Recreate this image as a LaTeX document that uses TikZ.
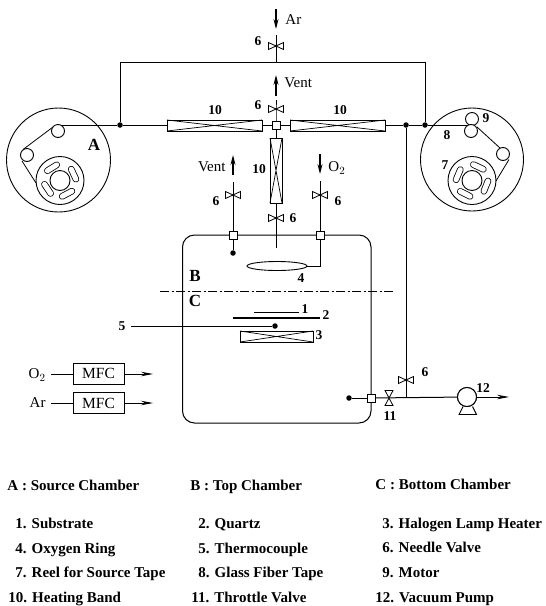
\documentclass[tikz,border=0pt]{standalone}
\usepackage{fontspec}
\setmainfont{Liberation Serif}
\usetikzlibrary{arrows.meta,calc,shapes.geometric}
\tikzset{
  x=1pt,y=-1pt,
  every path/.style={line width=0.9pt,black},
  wire/.style={line width=1pt},
  thinwire/.style={line width=0.8pt},
  flow/.style={line width=1.2pt,-{Stealth[length=10pt,width=5pt]}},
  dotn/.style={circle,fill=black,inner sep=0pt,minimum size=5.5pt},
  port/.style={draw,fill=white,rectangle,inner sep=0pt,minimum size=8pt,line width=1pt},
  roller/.style={draw,circle,inner sep=0pt,minimum size=13pt,fill=white,line width=0.9pt},
  mfcbox/.style={draw,rectangle,inner sep=0pt,minimum width=51pt,minimum height=21pt,font=\fontsize{15.5}{15.5}\selectfont},
  num/.style={font=\fontsize{13.5}{13.5}\selectfont\bfseries,inner sep=0pt},
  gas/.style={font=\fontsize{15}{15}\selectfont,inner sep=0pt},
  big/.style={font=\fontsize{17}{17}\selectfont\bfseries,inner sep=0pt},
  legend/.style={font=\fontsize{15}{15}\selectfont\bfseries,inner sep=0pt,anchor=base west},
  slot/.style={line width=0.8pt,double=white,double distance=5pt,line cap=round},
  pics/hvalve/.style={code={
    \draw[line width=0.8pt,fill=white] (-7.5,-3.5)--(7.5,3.5)--(7.5,-3.5)--(-7.5,3.5)--cycle;
    \fill (0,0) circle (1.2pt);}},
  pics/vvalve/.style={code={
    \draw[line width=0.8pt,fill=white] (-4,-7.5)--(4,7.5)--(-4,7.5)--(4,-7.5)--cycle;}},
}
\newcommand{\heatband}[4]{% x1 y1 x2 y2 rectangle with crossing lines
  \draw[line width=0.9pt] (#1,#2) rectangle (#3,#4);
  \draw[line width=0.7pt] (#1,#2)--(#3,#4) (#1,#4)--(#3,#2);}
\newcommand{\reel}[6]{% x y rotations
  \coordinate (c) at (#1,#2);
  \draw (c) circle (24);
  \draw (c) circle (10);
  \foreach \a in {#3,#4,#5,#6}{
    \draw[slot,rotate around={\a:(c)}] ($(c)+(-5.5,-15)$)--($(c)+(5.5,-15)$);}
}
\begin{document}
\begin{tikzpicture}
\useasboundingbox[fill=white] (0,0) rectangle (546,606);

% ---- nodes of the pipe network
\coordinate (arTop) at (276,9);
\coordinate (arTip) at (276,29);
\coordinate (arV) at (276,46);
\coordinate (junc) at (276,62);
\coordinate (tl) at (120,62);
\coordinate (tr) at (425,62);
\node[dotn] (dl) at (120,125) {};
\node[dotn] (dr) at (425,125) {};
\node[dotn] (dp) at (406,125) {};
\node[port] (hub) at (276,125) {};
\coordinate (ventV) at (276,109);
\coordinate (ventBase) at (276,96);
\coordinate (ventTip) at (276,75);
\coordinate (vertV) at (276,218);
\coordinate (vertEnd) at (276,248);
\node[port] (pl) at (233,235) {};
\node[port] (pr) at (320,235) {};
\node[dotn] (pld) at (233,253) {};
\coordinate (lvV) at (233,195);
\coordinate (lvBase) at (233,175);
\coordinate (lvTip) at (233,155);
\coordinate (rvV) at (320,195);
\coordinate (rvBase) at (320,154);
\coordinate (rvTip) at (320,174);
\coordinate (ringIn) at (320,266);
\coordinate (leftReel) at (58,125);
\coordinate (rightReel) at (472,125);

% ---- chambers (reels)
\draw (58.5,160) circle (52);
\draw (472,159.5) circle (51.5);

% left reel
\draw[thinwire] (dl) -- (leftReel);
\node[roller] (r1) at (58,131) {};
\node[roller] (r2) at (27,155) {};
\draw[thinwire] (53,127)--(23,149.5);
\draw[thinwire] (22,161)--(36,183);
\reel{60}{180.5}{32}{-65}{124}{-152}

% right reel
\draw[thinwire] (dr) -- (rightReel);
\node[roller] (m1) at (472,119) {};
\node[roller] (m2) at (471,131) {};
\node[roller] (r3) at (503,154) {};
\draw[thinwire] (477,127)--(500,148);
\draw[thinwire] (509,159.5)--(496,181);
\reel{472}{180.5}{-25}{-112}{153}{67}

% ---- pipes
\draw[wire] (junc) -- (arV);
\draw[thinwire] (arV) -- (276,35);
\draw[flow] (arTop) -- (arTip);
\draw[wire] (dl) -- (tl) -- (tr) -- (dr);
\draw[wire] (dl) -- (167,125);
\draw[wire] (262,125) -- (hub);
\draw[wire] (hub) -- (290,125);
\draw[thinwire] (385,125) -- (dp);
\draw[thinwire] (dp) -- (dr);
\draw[thinwire] (hub) -- (ventV) -- (276,100);
\draw[flow] (ventBase) -- (ventTip);
\draw[thinwire] (hub) -- (276,138);
\draw[thinwire] (276,203) -- (vertEnd);
\draw[wire] (233,182) -- (pl);
\draw[wire] (pl) -- (pld);
\draw[flow] (lvBase) -- (lvTip);
\draw[thinwire] (320,181) -- (pr);
\draw[flow] (rvBase) -- (rvTip);
\draw[thinwire] (pr) -- (ringIn) -- (306,266);

% ---- heating bands
\heatband{167}{120}{262}{131}
\heatband{290}{120}{385}{131}
\heatband{270}{138}{282}{203}

% ---- valves
\pic at (arV) {hvalve};
\pic at (ventV) {hvalve};
\pic at (vertV) {hvalve};
\pic at (lvV) {hvalve};
\pic at (rvV) {hvalve};

% ---- process chamber
\draw[line width=1pt,rounded corners=12pt] (182.5,235) rectangle (371,423);
\node[port] at (pl) {};
\node[port] at (pr) {};
\draw[line width=0.9pt] (277,266) ellipse (30 and 4.5);
\draw[line width=0.8pt,dash pattern=on 9pt off 2.5pt on 2pt off 2.5pt] (160,291) -- (394,291);

\draw[thinwire] (254,312) -- (299,312);
\draw[line width=1.2pt] (233,318) -- (320,318);
\node[dotn] (tc) at (275,326) {};
\draw[wire] (131,326) -- (tc);
\heatband{240}{331}{313}{342}

% ---- pump line
\node[dotn] (inl) at (349,398) {};
\node[port] (po) at (371,398) {};
\node[draw,circle,inner sep=0pt,minimum size=19pt,line width=1pt,fill=white] (pump) at (467,397) {};
\coordinate (tv) at (389,398);
\coordinate (pv) at (406,398);
\coordinate (pvv) at (406,380);
\coordinate (pumpTip) at (509,397);
\draw[wire] (inl) -- (po);
\draw[wire] (po) -- (pump);
\draw[wire] (dp) -- (pv);
\pic at (tv) {vvalve};
\pic at (pvv) {hvalve};
\draw[line width=0.8pt,-{Stealth[length=12pt,width=4.5pt]}] (pump) -- (pumpTip);
\node[draw,circle,inner sep=0pt,minimum size=19pt,line width=1pt,fill=white] at (467,397) {};
\draw[line width=0.9pt] (463,406.5)--(459,414.5)--(476.5,414.5)--(472.5,406.5);

% ---- MFC
\node[mfcbox] (mfc1) at (98.5,373.5) {MFC};
\node[mfcbox] (mfc2) at (98.5,403) {MFC};
\coordinate (o2in) at (51,374);
\coordinate (arin) at (51,403);
\coordinate (o2out) at (153,374);
\coordinate (arout) at (153,403);
\draw[thinwire] (o2in) -- (mfc1.west |- o2in);
\draw[thinwire] (arin) -- (mfc2.west |- arin);
\draw[line width=0.8pt,-{Stealth[length=12pt,width=4.5pt]}] (mfc1.east |- o2out) -- (o2out);
\draw[line width=0.8pt,-{Stealth[length=12pt,width=4.5pt]}] (mfc2.east |- arout) -- (arout);

% ---- diagram labels
\node[gas,anchor=west] (lAr) at (285,20) {Ar};
\node[gas,anchor=west] (lV1) at (284,83) {Vent};
\node[gas,anchor=east] (lV2) at (226,167) {Vent};
\node[gas,anchor=west] (lO) at (328,168) {O$_{2}$};
\node[gas,anchor=east] (lO3) at (46,375) {O$_{2}$};
\node[gas,anchor=east] (lAr3) at (46,403) {Ar};
\node[num] (n61) at (258,41) {6};
\node[num] (n62) at (258,105) {6};
\node[num] (n63) at (216,201) {6};
\node[num] (n64) at (293,218) {6};
\node[num] (n65) at (338,201) {6};
\node[num] (n66) at (425,372) {6};
\node[num] (n101) at (215,110) {10};
\node[num] (n102) at (340,110) {10};
\node[num] (n103) at (259,169) {10};
\node[big] (lA) at (94,145) {A};
\node[big] (lB) at (195,276) {B};
\node[big] (lC) at (195,301) {C};
\node[num] (n1) at (305,309) {1};
\node[num] (n2) at (326,315) {2};
\node[num] (n3) at (319,335) {3};
\node[num] (n4) at (301,278) {4};
\node[num] (n5) at (122,326) {5};
\node[num] (n7) at (445,165) {7};
\node[num] (n8) at (447,135) {8};
\node[num] (n9) at (486,118) {9};
\node[num] (n11) at (390,416) {11};
\node[num] (n12) at (483,388) {12};

% ---- legend
\node[legend] (a0) at (7,490) {A : Source Chamber};
\node[legend] (b0) at (190,490) {B : Top Chamber};
\node[legend] (c0) at (375,489) {C : Bottom Chamber};
\node[legend] (a1) at (15,528) {1. Substrate};
\node[legend] (b1) at (198,528) {2. Quartz};
\node[legend] (c1) at (382,528) {3. Halogen Lamp Heater};
\node[legend] (a2) at (15,553) {4. Oxygen Ring};
\node[legend] (b2) at (198,553) {5. Thermocouple};
\node[legend] (c2) at (382,552) {6. Needle Valve};
\node[legend] (a3) at (15,577) {7. Reel for Source Tape};
\node[legend] (b3) at (198,577) {8. Glass Fiber Tape};
\node[legend] (c3) at (382,577) {9. Motor};
\node[legend] (a4) at (8,602) {10. Heating Band};
\node[legend] (b4) at (191,602) {11. Throttle Valve};
\node[legend] (c4) at (375,602) {12. Vacuum Pump};
\end{tikzpicture}
\end{document}
